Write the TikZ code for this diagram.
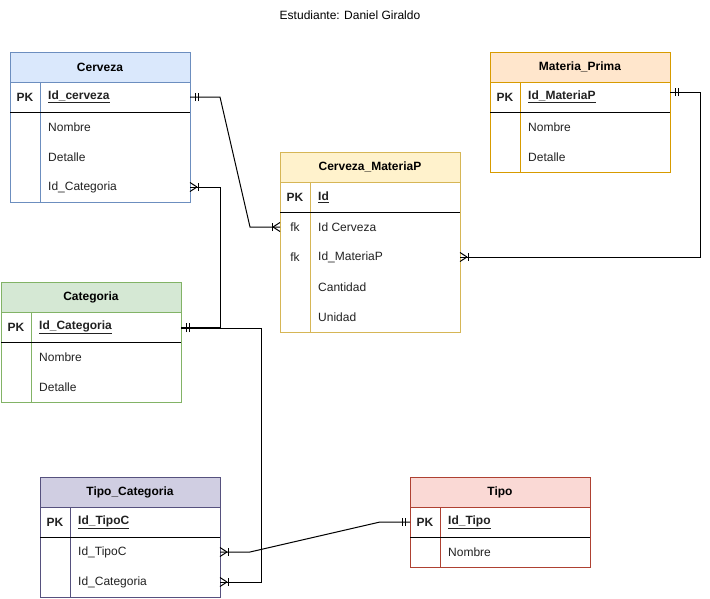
\documentclass[tikz,border=0pt]{standalone}
\usepackage{fontspec}
\setmainfont{Liberation Sans}
\usetikzlibrary{decorations.markings}

% entity colours (fill / stroke)
\definecolor{blueF}{HTML}{DAE8FC}   \definecolor{blueS}{HTML}{6C8EBF}
\definecolor{orangeF}{HTML}{FFE6CC} \definecolor{orangeS}{HTML}{D79B00}
\definecolor{yellowF}{HTML}{FFF2CC} \definecolor{yellowS}{HTML}{D6B656}
\definecolor{greenF}{HTML}{D5E8D4}  \definecolor{greenS}{HTML}{82B366}
\definecolor{purpleF}{HTML}{D0CEE2} \definecolor{purpleS}{HTML}{56517E}
\definecolor{redF}{HTML}{FAD9D5}    \definecolor{redS}{HTML}{AE4132}
\definecolor{rowtext}{HTML}{222222}

\tikzset{
  txt/.style={font=\fontsize{12}{14}\selectfont},
  tframe/.style={draw, fill=white, line width=1pt, minimum width=180pt,
    anchor=north west, inner sep=0pt, outer sep=0pt},
  thead/.style={draw, line width=1pt, minimum width=180pt, minimum height=30pt,
    anchor=north west, inner sep=0pt, outer sep=0pt, txt, font=\fontsize{12}{14}\selectfont\bfseries},
  trow/.style={minimum width=180pt, minimum height=30pt, anchor=north west,
    inner sep=0pt, outer sep=0pt},
  tkey/.style={anchor=center, inner sep=0pt, txt, text=rowtext},
  tfield/.style={anchor=west, inner sep=0pt, txt, text=rowtext},
  tick/.style={draw=black, line width=1pt},
  conn/.style={draw=black, line width=1pt},
  onestart/.style={postaction={decorate, decoration={markings,
    mark=at position 5pt with {\draw[tick] (0pt,-4pt) -- (0pt,4pt);},
    mark=at position 8pt with {\draw[tick] (0pt,-4pt) -- (0pt,4pt);}}}},
  oneend/.style={postaction={decorate, decoration={markings,
    mark=at position -5pt with {\draw[tick] (0pt,-4pt) -- (0pt,4pt);},
    mark=at position -8pt with {\draw[tick] (0pt,-4pt) -- (0pt,4pt);}}}},
  manyend/.style={postaction={decorate, decoration={markings,
    mark=at position -8pt with {\draw[tick] (0pt,-4pt) -- (0pt,4pt);
      \draw[tick] (1pt,0pt) -- (8pt,4.5pt); \draw[tick] (1pt,0pt) -- (8pt,-4.5pt);}}}},
  manystart/.style={postaction={decorate, decoration={markings,
    mark=at position 8pt with {\draw[tick] (0pt,-4pt) -- (0pt,4pt);
      \draw[tick] (-1pt,0pt) -- (-8pt,4.5pt); \draw[tick] (-1pt,0pt) -- (-8pt,-4.5pt);}}}},
}

% entity frame: name, x, y, fill, stroke, height, title
\newcommand\erTable[7]{%
  \node[tframe, draw=#5, minimum height=#6] (#1) at (#2,#3) {};
  \node[thead, fill=#4, draw=#5] (#1-h) at (#1.north west) {#7};
  \draw[#5, line width=1pt] ([shift={(30pt,-30pt)}]#1.north west) -- ([xshift=30pt]#1.south west);
  \draw[black, line width=1pt] ([yshift=-60pt]#1.north west) -- ([yshift=-60pt]#1.north east);
}
% entity row: name, x, y, key text, field text
\newcommand\erRow[5]{%
  \node[trow] (#1) at (#2,#3) {};
  \node[tkey] (#1-k) at ([xshift=15pt]#1.west) {#4};
  \node[tfield] (#1-f) at ([xshift=38pt]#1.west) {#5};
}

\begin{document}
\begin{tikzpicture}[x=1pt, y=-1pt]
  \useasboundingbox (0,0) rectangle (710,598);

  \node[txt] (title) at (350,15) {Estudiante: Daniel Giraldo};

  % Cerveza
  \erTable{cz}{10}{52}{blueF}{blueS}{150pt}{Cerveza}
  \erRow{cz1}{10}{82}{\textbf{PK}}{\textbf{\underline{Id\_cerveza}}}
  \erRow{cz2}{10}{112}{}{Nombre}
  \erRow{cz3}{10}{142}{}{Detalle}
  \erRow{cz4}{10}{172}{}{Id\_Categoria}

  % Materia_Prima
  \erTable{mp}{490}{52}{orangeF}{orangeS}{120pt}{Materia\_Prima}
  \erRow{mp1}{490}{82}{\textbf{PK}}{\textbf{\underline{Id\_MateriaP}}}
  \erRow{mp2}{490}{112}{}{Nombre}
  \erRow{mp3}{490}{142}{}{Detalle}

  % Cerveza_MateriaP
  \erTable{cm}{280}{152}{yellowF}{yellowS}{180pt}{Cerveza\_MateriaP}
  \erRow{cm1}{280}{182}{\textbf{PK}}{\textbf{\underline{Id}}}
  \erRow{cm2}{280}{212}{fk}{Id Cerveza}
  \erRow{cm3}{280}{242}{fk}{Id\_MateriaP}
  \erRow{cm4}{280}{272}{}{Cantidad}
  \erRow{cm5}{280}{302}{}{Unidad}

  % Categoria
  \erTable{cat}{1}{282}{greenF}{greenS}{120pt}{Categoria}
  \erRow{cat1}{1}{312}{\textbf{PK}}{\textbf{\underline{Id\_Categoria}}}
  \erRow{cat2}{1}{342}{}{Nombre}
  \erRow{cat3}{1}{372}{}{Detalle}

  % Tipo_Categoria
  \erTable{tc}{40}{477}{purpleF}{purpleS}{120pt}{Tipo\_Categoria}
  \erRow{tc1}{40}{507}{\textbf{PK}}{\textbf{\underline{Id\_TipoC}}}
  \erRow{tc2}{40}{537}{}{Id\_TipoC}
  \erRow{tc3}{40}{567}{}{Id\_Categoria}

  % Tipo
  \erTable{tp}{410}{477}{redF}{redS}{90pt}{Tipo}
  \erRow{tp1}{410}{507}{\textbf{PK}}{\textbf{\underline{Id\_Tipo}}}
  \erRow{tp2}{410}{537}{}{Nombre}

  % relationships
  \draw[conn, onestart, manyend] (cz1.east) -- ++(30pt,0pt)
    -- ([xshift=-30pt]cm2.west) -- (cm2.west);
  \draw[conn, onestart, manyend] ([yshift=5pt]mp1.east) -- ++(30pt,0pt) |- (cm3.east);
  \draw[conn, manystart, oneend] (cz4.east) -- ++(30pt,0pt) |- (cat1.east);
  \draw[conn, onestart, manyend] ([yshift=-1pt]cat1.east) -- ++(80pt,0pt) |- (tc3.east);
  \draw[conn, onestart, manyend] (tp1.west) -- ++(-30pt,0pt)
    -- ([xshift=30pt]tc2.east) -- (tc2.east);
\end{tikzpicture}
\end{document}
